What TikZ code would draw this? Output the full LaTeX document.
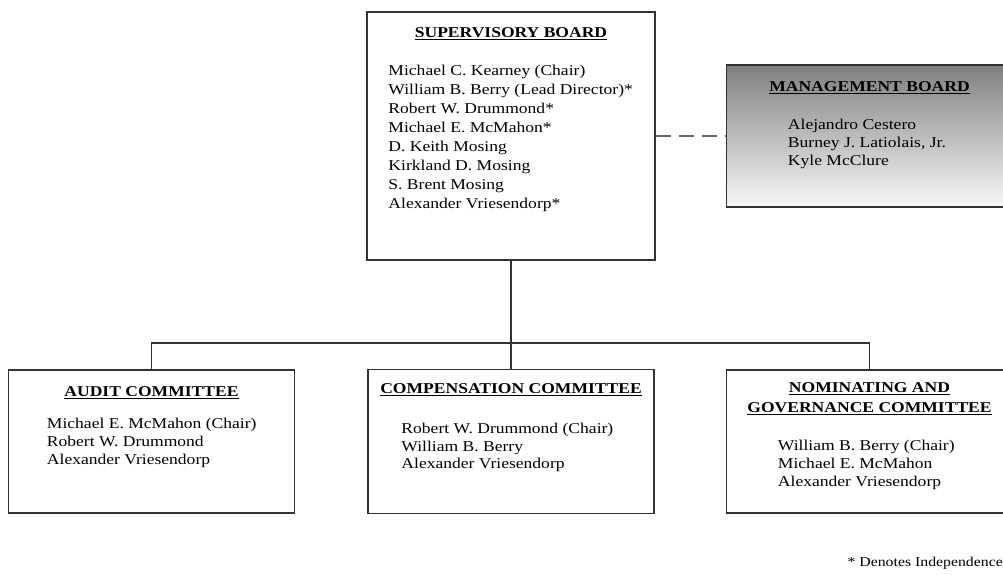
\documentclass[tikz,border=0pt]{standalone}
\usepackage{fontspec}
\setmainfont{Liberation Serif}[FakeStretch=1.17]
\usepackage{tikz}
\usetikzlibrary{positioning}
\tikzstyle{box} = [rectangle, draw = black!80, line width = 1.5pt, inner sep = 0pt]
\tikzstyle{heading} = [inner sep = 0pt, align = center, font = \fontsize{15}{20}\selectfont\bfseries]
\tikzstyle{names} = [inner sep = 0pt, align = left, font = \fontsize{15}{17.8}\selectfont]
\tikzstyle{link} = [line width = 1.5pt, draw = black!80]
\tikzstyle{dashlink} = [line width = 2pt, draw = black!60, dash pattern = on 15pt off 8pt]
\newcommand{\boxhead}[1]{\underline{#1}}

\begin{document}
\begin{tikzpicture}[x = 1pt, y = -1pt]
                \useasboundingbox (0,0) rectangle (1003,574);
                \node (sup) [box, minimum width = 288pt, minimum height = 248pt] at (511,136) {};
                \node (suphead) [heading, below = 16pt of sup.north] {\boxhead{SUPERVISORY BOARD}};
                \node (supnames) [names, font = \fontsize{15}{18.9}\selectfont, below right = 54pt and 22pt of sup.north west] {Michael C. Kearney (Chair)\\ William B. Berry (Lead Director)*\\ Robert W. Drummond*\\ Michael E. McMahon*\\ D. Keith Mosing\\ Kirkland D. Mosing\\ S. Brent Mosing\\ Alexander Vriesendorp*};
                \node (mgmt) [box, top color = black!50, bottom color = black!3, minimum width = 286pt, minimum height = 142pt, right = 70pt of sup] {};
                \node (mgmthead) [heading, below = 17pt of mgmt.north] {\boxhead{MANAGEMENT BOARD}};
                \node (mgmtnames) [names, below right = 55pt and 62pt of mgmt.north west] {Alejandro Cestero\\ Burney J. Latiolais, Jr.\\ Kyle McClure};

                \node (comp) [box, minimum width = 286pt, minimum height = 144pt, below = 108pt of sup] {};
                \node (comphead) [heading, below = 15pt of comp.north] {\boxhead{COMPENSATION COMMITTEE}};
                \node (compnames) [names, below right = 54pt and 34pt of comp.north west] {Robert W. Drummond (Chair)\\ William B. Berry\\ Alexander Vriesendorp};
                \node (audit) [box, minimum width = 286pt, minimum height = 143pt, left = 72pt of comp] {};
                \node (audithead) [heading, below = 17pt of audit.north] {\boxhead{AUDIT COMMITTEE}};
                \node (auditnames) [names, below right = 49pt and 39pt of audit.north west] {Michael E. McMahon (Chair)\\ Robert W. Drummond\\ Alexander Vriesendorp};
                \node (nom) [box, minimum width = 286pt, minimum height = 143pt, right = 71pt of comp] {};
                \node (nomhead) [heading, below = 13pt of nom.north] {\boxhead{NOMINATING AND}\\ \boxhead{GOVERNANCE COMMITTEE}};
                \node (nomnames) [names, below right = 71pt and 52pt of nom.north west] {William B. Berry (Chair)\\ Michael E. McMahon\\ Alexander Vriesendorp};

                \node (note) [anchor = base east, inner sep = 0pt, font = \fontsize{13.5}{16}\selectfont] at (1003,566) {* Denotes Independence};

                \coordinate [below = 82pt of sup.south] (split);
                \draw [link] (sup.south) -- (split);
                \draw [link] (split) -| (audit.north);
                \draw [link] (split) -- (comp.north);
                \draw [link] (split) -| (nom.north);
                \draw [dashlink] (sup.east) -- (mgmt.west);
\end{tikzpicture}
\end{document}
